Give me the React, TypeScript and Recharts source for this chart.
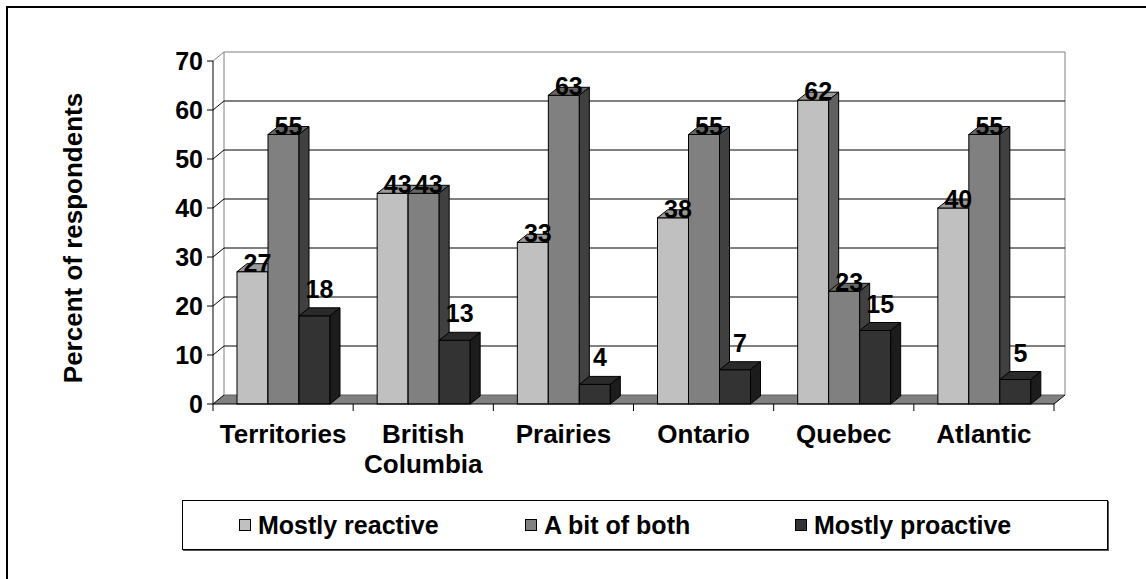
import React from 'react';
import { BarChart, Bar, XAxis, YAxis, CartesianGrid, LabelList, Legend, Label } from 'recharts';

const categories = ['Territories', 'British Columbia', 'Prairies', 'Ontario', 'Quebec', 'Atlantic'];
const mostlyReactive = [27, 43, 33, 38, 62, 40];
const aBitOfBoth = [55, 43, 63, 55, 23, 55];
const mostlyProactive = [18, 13, 4, 7, 15, 5];
const yTicks = [0, 10, 20, 30, 40, 50, 60, 70];
const seriesNames = ['Mostly reactive', 'A bit of both', 'Mostly proactive'];
const seriesKeys = ['reactive', 'both', 'proactive'];
const yTitle = 'Percent of respondents';

const data = categories.map((c, i) => ({
  region: c,
  reactive: mostlyReactive[i],
  both: aBitOfBoth[i],
  proactive: mostlyProactive[i],
}));

const FONT = '"Liberation Sans", Arial, Helvetica, sans-serif';
const BAR_DX = 10;
const BAR_DY = 8;
const WALL_DX = 11;
const WALL_DY = 9;
const X_TICK_SIZE = 7;
const X_TICK_MARGIN = 14;
const LINE_H = 30;

const palette = [
  { front: '#C0C0C0', top: '#9A9A9A', side: '#606060' },
  { front: '#808080', top: '#666666', side: '#404040' },
  { front: '#333333', top: '#2A2A2A', side: '#1C1C1C' },
];

const make3DBar = (st: { front: string; top: string; side: string }) => (props: any) => {
  const { x, y, width, height } = props;
  if (x == null || y == null || !width || height == null) return <g />;
  const top = `M${x},${y} L${x + BAR_DX},${y - BAR_DY} L${x + width + BAR_DX},${y - BAR_DY} L${x + width},${y} Z`;
  const side = `M${x + width},${y} L${x + width + BAR_DX},${y - BAR_DY} L${x + width + BAR_DX},${y + height - BAR_DY} L${x + width},${y + height} Z`;
  return (
    <g>
      <rect x={x} y={y} width={width} height={height} fill={st.front} stroke="#000" strokeWidth={1} />
      <path d={top} fill={st.top} stroke="#000" strokeWidth={1} strokeLinejoin="round" />
      <path d={side} fill={st.side} stroke="#000" strokeWidth={1} strokeLinejoin="round" />
    </g>
  );
};

const makeLabel = (dx: number, lift: number) => (p: any) => {
  const vb = p.viewBox || {};
  const x = p.x ?? vb.x;
  const y = p.y ?? vb.y;
  const w = p.width ?? vb.width ?? 0;
  if (x == null || y == null) return null;
  return (
    <text
      x={x + w / 2 + dx}
      y={y - lift}
      textAnchor="middle"
      fontFamily={FONT}
      fontWeight="bold"
      fontSize={25}
      fill="#000"
    >
      {p.value}
    </text>
  );
};

const gridLine = (p: any) => {
  const { x1, x2, y1 } = p;
  const top = p.y;
  const bottom = p.y + p.height;
  const isFloor = Math.abs(y1 - bottom) < 0.5;
  const isTop = Math.abs(y1 - top) < 0.5;
  if (isFloor) {
    const floor = `M${x1},${y1} L${x2},${y1} L${x2 + WALL_DX},${y1 - WALL_DY} L${x1 + WALL_DX},${y1 - WALL_DY} Z`;
    return (
      <g key={p.key}>
        <path d={floor} fill="#808080" stroke="none" />
        <line x1={x1 + WALL_DX} y1={y1 - WALL_DY} x2={x2 + WALL_DX} y2={y1 - WALL_DY} stroke="#606060" />
        <line x1={x2} y1={y1} x2={x2 + WALL_DX} y2={y1 - WALL_DY} stroke="#000" />
        <line x1={x1} y1={y1} x2={x1 + WALL_DX} y2={y1 - WALL_DY} stroke="#000" />
        <line x1={x1 + WALL_DX} y1={top - WALL_DY} x2={x1 + WALL_DX} y2={y1 - WALL_DY} stroke="#808080" />
        <line x1={x2 + WALL_DX} y1={top - WALL_DY} x2={x2 + WALL_DX} y2={y1 - WALL_DY} stroke="#808080" />
      </g>
    );
  }
  const col = isTop ? '#808080' : '#000';
  return (
    <g key={p.key}>
      <line x1={x1} y1={y1} x2={x1 + WALL_DX} y2={y1 - WALL_DY} stroke={col} />
      <line x1={x1 + WALL_DX} y1={y1 - WALL_DY} x2={x2 + WALL_DX} y2={y1 - WALL_DY} stroke={col} />
    </g>
  );
};

const CategoryTick = (p: any) => {
  const { x, y, payload, index } = p;
  const count = p.visibleTicksCount || categories.length;
  const bw = (p.width || 841) / count;
  const axisY = y - X_TICK_MARGIN - X_TICK_SIZE;
  const words = String(payload.value).split(' ');
  return (
    <g>
      <line x1={x - bw / 2} y1={axisY} x2={x - bw / 2} y2={axisY + X_TICK_SIZE} stroke="#000" />
      {index === count - 1 && (
        <line x1={x + bw / 2} y1={axisY} x2={x + bw / 2} y2={axisY + X_TICK_SIZE} stroke="#000" />
      )}
      <text x={x} y={y} textAnchor="middle" fontFamily={FONT} fontWeight="bold" fontSize={26} fill="#000">
        {words.map((w, i) => (
          <tspan key={i} x={x} dy={i === 0 ? '0.71em' : LINE_H}>
            {w}
          </tspan>
        ))}
      </text>
    </g>
  );
};

const legendLefts = [56, 342, 612];

const LegendBox = () => (
  <div
    style={{
      position: 'relative',
      boxSizing: 'border-box',
      width: 926,
      height: 50,
      border: '1px solid #000',
      boxShadow: '1px 1px 0 #555',
      background: '#fff',
      fontFamily: FONT,
      fontWeight: 'bold',
      fontSize: 25,
      color: '#000',
    }}
  >
    {seriesNames.map((name, i) => (
      <div
        key={name}
        style={{ position: 'absolute', left: legendLefts[i], top: 0, height: 48, display: 'flex', alignItems: 'center', whiteSpace: 'nowrap' }}
      >
        <span
          style={{
            display: 'inline-block',
            width: 12,
            height: 12,
            boxSizing: 'border-box',
            border: '1px solid #000',
            background: palette[i].front,
            marginRight: 7,
          }}
        />
        <span>{name}</span>
      </div>
    ))}
  </div>
);

export default function App() {
  return (
    <div style={{ position: 'absolute', left: 0, top: 0, width: 1146, height: 579, overflow: 'hidden', background: '#fff' }}>
      <div
        style={{
          position: 'absolute',
          left: 6,
          top: 6,
          width: 1300,
          height: 700,
          border: '2px solid #000',
          boxSizing: 'border-box',
        }}
      />
      <div style={{ position: 'absolute', left: 0, top: 0 }}>
        <BarChart
          width={1146}
          height={579}
          data={data}
          margin={{ top: 61, right: 92, left: 153, bottom: 145 }}
          barGap={0}
        >
          <CartesianGrid horizontal={gridLine} vertical={false} />
          <XAxis
            dataKey="region"
            height={30}
            interval={0}
            tickLine={false}
            tickSize={X_TICK_SIZE}
            tickMargin={X_TICK_MARGIN}
            axisLine={{ stroke: '#000' }}
            tick={CategoryTick}
          />
          <YAxis
            type="number"
            domain={[0, 70]}
            ticks={yTicks}
            interval={0}
            width={60}
            tickSize={6}
            tickMargin={4}
            axisLine={{ stroke: '#000' }}
            tickLine={{ stroke: '#000' }}
            tick={{ fill: '#000', fontSize: 25, fontWeight: 'bold', fontFamily: FONT }}
          >
            <Label
              content={() => (
                <text
                  x={73}
                  y={238}
                  transform="rotate(-90 73 238)"
                  textAnchor="middle"
                  dominantBaseline="central"
                  fontFamily={FONT}
                  fontWeight="bold"
                  fontSize={26}
                  fill="#000"
                >
                  {yTitle}
                </text>
              )}
            />
          </YAxis>
          <Legend
            layout="horizontal"
            verticalAlign="middle"
            align="center"
            wrapperStyle={{ left: 182, top: 500, width: 926, height: 50 }}
            content={() => <LegendBox />}
          />
          {seriesKeys.map((k, i) => (
            <Bar
              key={k}
              dataKey={k}
              name={seriesNames[i]}
              barSize={31}
              isAnimationActive={false}
              shape={make3DBar(palette[i])}
            >
              <LabelList dataKey={k} content={i < 2 ? makeLabel(5, 0) : makeLabel(5, 18)} />
            </Bar>
          ))}
        </BarChart>
      </div>
    </div>
  );
}
